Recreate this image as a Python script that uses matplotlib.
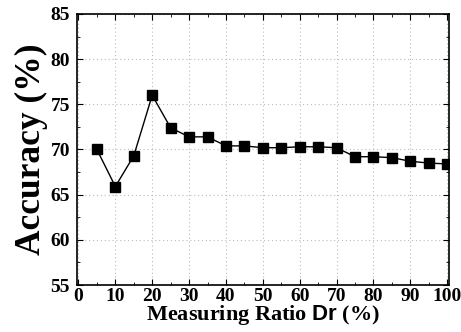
import numpy as np
import matplotlib.pyplot as plt
from matplotlib.ticker import MultipleLocator

# datos
ratio = [5, 10, 15, 20, 25, 30, 35, 40, 45, 50, 55, 60, 65, 70, 75, 80, 85, 90, 95, 100]
accuracy = [70.0, 65.9, 69.3, 76.0, 72.4, 71.4, 71.4, 70.4, 70.4, 70.2, 70.2,
            70.3, 70.3, 70.2, 69.2, 69.2, 69.1, 68.7, 68.5, 68.4]

plt.rcParams['font.family'] = 'Liberation Serif'
plt.rcParams['font.weight'] = 'bold'
plt.rcParams['mathtext.fontset'] = 'custom'
plt.rcParams['mathtext.sf'] = 'Liberation Sans'

fig = plt.figure(figsize=(4.61, 3.32), dpi=100)
ax = fig.add_axes([77/461, 1 - 285/332, (449-77)/461, (285-14)/332])

ax.plot(ratio, accuracy, color='black', lw=1.0, marker='s', markersize=7.5,
        markerfacecolor='black', markeredgecolor='black')

ax.set_xlim(-0.4, 100.5)
ax.set_ylim(55, 85)
ax.xaxis.set_major_locator(MultipleLocator(10))
ax.xaxis.set_minor_locator(MultipleLocator(5))
ax.yaxis.set_major_locator(MultipleLocator(5))
ax.yaxis.set_minor_locator(MultipleLocator(2.5))
ax.tick_params(which='both', direction='in', top=True, right=True)
ax.tick_params(which='major', length=4, labelsize=14)
ax.tick_params(axis='y', pad=5)
ax.tick_params(axis='x', pad=2)
ax.tick_params(which='minor', length=2)
ax.grid(True, which='major', linestyle=(0, (1, 2.5)), color='#bbbbbb', lw=0.8)
for s in ax.spines.values():
    s.set_linewidth(1.2)

ax.set_ylabel('Accuracy (%)', fontsize=25.5, fontweight='bold', labelpad=2)
ax.set_xlabel(r'Measuring Ratio $\mathsf{Dr}$ (%)', fontsize=16, fontweight='bold', labelpad=-1)

fig.savefig('out.png', dpi=100)
